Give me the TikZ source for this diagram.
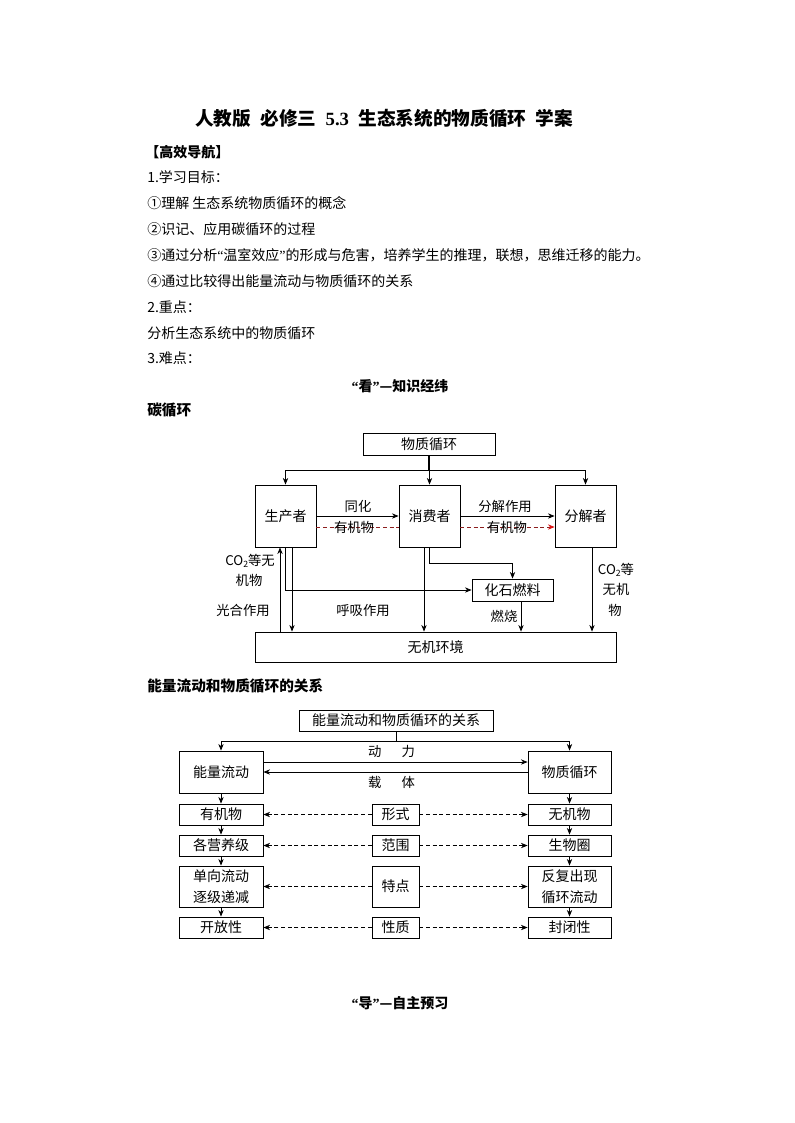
\documentclass[tikz,border=0pt]{standalone}
\usepackage{fontspec}
\setmainfont{Noto Sans CJK SC}
\newfontfamily\lat{Liberation Serif}
\usetikzlibrary{arrows.meta,calc}
\definecolor{dred}{RGB}{140,30,30}
\definecolor{ared}{RGB}{220,20,20}
\newcommand{\cotwo}{CO\raisebox{-0.35ex}{\fontsize{6.5}{7}\selectfont 2}}
\newcommand{\myoq}{{\lat “}}
\newcommand{\mycq}{{\lat ”}}
\begin{document}
\begin{tikzpicture}[x=0.75pt,y=-0.75pt,
  box/.style 2 args={draw, line width=0.6pt, inner sep=0pt, minimum width=#1*0.75pt, minimum height=#2*0.75pt, font=\fontsize{10.5}{15.75}\selectfont, align=center},
  txt/.style={inner sep=0pt, anchor=west, font=\fontsize{10.5}{13}\selectfont},
  head/.style={inner sep=0pt, font=\fontsize{10.5}{13}\selectfont\bfseries},
  lbl/.style={inner sep=0pt, font=\fontsize{10}{12}\selectfont},
  ln/.style={line width=0.6pt},
  arr/.style={line width=0.6pt, -{Stealth[length=5pt,width=4pt]}},
  dsh/.style={line width=0.6pt, dash pattern=on 3pt off 2pt, -{Stealth[length=5pt,width=4pt]}},
]
\fill[white] (0,0) rectangle (794,1123);
\path[use as bounding box] (0,0) rectangle (794,1123);

% ---------- text ----------
\node[inner sep=0pt, font=\fontsize{14}{16}\selectfont\bfseries] (title) at (384,118)
  {人教版\hspace{0.5em}必修三\hspace{0.5em}{\lat 5.3}\hspace{0.5em}生态系统的物质循环\hspace{0.5em}学案};
\node[head, anchor=west] (h1) at (145,152) {【高效导航】};
\node[txt] (l1) at (147,177) {1.学习目标：};
\node[txt] (l2) at (147,203) {①理解 生态系统物质循环的概念};
\node[txt] (l3) at (147,229) {②识记、应用碳循环的过程};
\node[txt] (l4) at (147,255) {③通过分析\myoq 温室效应\mycq 的形成与危害，培养学生的推理，联想，思维迁移的能力。};
\node[txt] (l5) at (147,281) {④通过比较得出能量流动与物质循环的关系};
\node[txt] (l6) at (147,307) {2.重点：};
\node[txt] (l7) at (147,333) {分析生态系统中的物质循环};
\node[txt] (l8) at (147,358) {3.难点：};
\node[head] (h2) at (400,386) {\myoq 看\mycq —知识经纬};
\node[head, anchor=west, font=\fontsize{11}{13}\selectfont\bfseries] (h3) at (147,410) {碳循环};
\node[head, anchor=west, font=\fontsize{11}{13}\selectfont\bfseries] (h4) at (147,686) {能量流动和物质循环的关系};
\node[head] (h5) at (400,1003) {\myoq 导\mycq —自主预习};

% ---------- carbon cycle ----------
\node[box={132}{22}] (wz) at (429,444) {物质循环};
\node[box={61}{62}] (prod) at (285.5,516) {生产者};
\node[box={61}{62}] (cons) at (429.5,516) {消费者};
\node[box={61}{62}] (dec) at (585.5,516) {分解者};
\node[box={81}{22}] (fos) at (512.5,590) {化石燃料};
\node[box={361}{30}] (env) at (435.5,647) {无机环境};

\coordinate (j1) at (429,470);
\draw[line width=1.6pt] (wz.south) -- (j1);
\draw[ln] (prod.north |- j1) -- (dec.north |- j1);
\draw[arr] (prod.north |- j1) -- (prod.north);
\draw[arr] (cons.north |- j1) -- (cons.north);
\draw[arr] (dec.north |- j1) -- (dec.north);

\draw[arr] (prod.east) -- (cons.west);
\draw[arr] (cons.east) -- (dec.west);
\draw[line width=0.6pt, dred, dash pattern=on 3pt off 2pt] ([yshift=-8.25pt]prod.east) -- ([yshift=-8.25pt]cons.west);
\draw[line width=0.6pt, dred, dash pattern=on 3pt off 2pt, -{Stealth[length=5pt,width=4pt,color=ared]}] ([yshift=-8.25pt]cons.east) -- ([yshift=-8.25pt]dec.west);
\node[lbl] (t1) at (358,506) {同化};
\node[lbl] (t2) at (505,506) {分解作用};
\node[lbl] (t3) at (354,527) {有机物};
\node[lbl] (t4) at (507,527) {有机物};

\draw[arr] ([xshift=-4.125pt]prod.south |- env.north) -- ([xshift=-4.125pt]prod.south);
\draw[arr] (prod.south) |- (fos.west);
\draw[arr] ([xshift=4.875pt]prod.south) -- ([xshift=4.875pt]prod.south |- env.north);
\draw[arr] ([xshift=-4.125pt]cons.south) -- ([xshift=-4.125pt]cons.south |- env.north);
\draw[arr] (cons.south) -- ++(0,-12pt) -| (fos.north);
\draw[arr] ([xshift=6.375pt]fos.south) -- ([xshift=6.375pt]fos.south |- env.north);
\draw[arr] ([xshift=4.875pt]dec.south) -- ([xshift=4.875pt]dec.south |- env.north);

\node[lbl] (c1) at (250,561) {\cotwo 等无};
\node[lbl] (c2) at (249,580) {机物};
\node[lbl] (c3) at (243,610) {光合作用};
\node[lbl] (c4) at (363,610) {呼吸作用};
\node[lbl] (c5) at (504,616) {燃烧};
\node[lbl] (c6) at (616,570) {\cotwo 等};
\node[lbl] (c7) at (616,589) {无机};
\node[lbl] (c8) at (615,610) {物};

% ---------- energy / matter ----------
\node[box={194}{21}] (rel) at (396,720.5) {能量流动和物质循环的关系};
\node[box={84}{42}] (en) at (221,772) {能量流动};
\node[box={83}{42}] (ma) at (569.5,772) {物质循环};

\node[box={84}{21}] (L1) at (221,814.5) {有机物};
\node[box={84}{21}] (L2) at (221,845.5) {各营养级};
\node[box={84}{41}] (L3) at (221,886.5) {单向流动\\逐级递减};
\node[box={84}{21}] (L4) at (221,927.5) {开放性};

\node[box={47}{21}] (C1) at (395.5,814.5) {形式};
\node[box={47}{21}] (C2) at (395.5,845.5) {范围};
\node[box={47}{41}] (C3) at (395.5,886.5) {特点};
\node[box={47}{21}] (C4) at (395.5,927.5) {性质};

\node[box={83}{21}] (R1) at (569.5,814.5) {无机物};
\node[box={83}{21}] (R2) at (569.5,845.5) {生物圈};
\node[box={83}{41}] (R3) at (569.5,886.5) {反复出现\\循环流动};
\node[box={83}{21}] (R4) at (569.5,927.5) {封闭性};

\coordinate (j2) at (396,741);
\draw[ln] (rel.south) -- (j2);
\draw[ln] (en.north |- j2) -- (ma.north |- j2);
\draw[arr] (en.north |- j2) -- (en.north);
\draw[arr] (ma.north |- j2) -- (ma.north);

\draw[arr] ([yshift=7.5pt]en.east) -- ([yshift=7.5pt]ma.west);
\draw[arr] (ma.west) -- (en.east);
\node[lbl] (dl) at (391.5,751) {动\hspace{15pt}力};
\node[lbl] (zt) at (391.5,782) {载\hspace{15pt}体};

\draw[arr] (en.south) -- (L1.north);
\draw[arr] (L1.south) -- (L2.north);
\draw[arr] (L2.south) -- (L3.north);
\draw[arr] (L3.south) -- (L4.north);
\draw[arr] (ma.south) -- (R1.north);
\draw[arr] (R1.south) -- (R2.north);
\draw[arr] (R2.south) -- (R3.north);
\draw[arr] (R3.south) -- (R4.north);

\foreach \i in {1,2,3,4}{
  \draw[dsh] (C\i.west) -- (L\i.east);
  \draw[dsh] (C\i.east) -- (R\i.west);
}
\end{tikzpicture}
\end{document}
